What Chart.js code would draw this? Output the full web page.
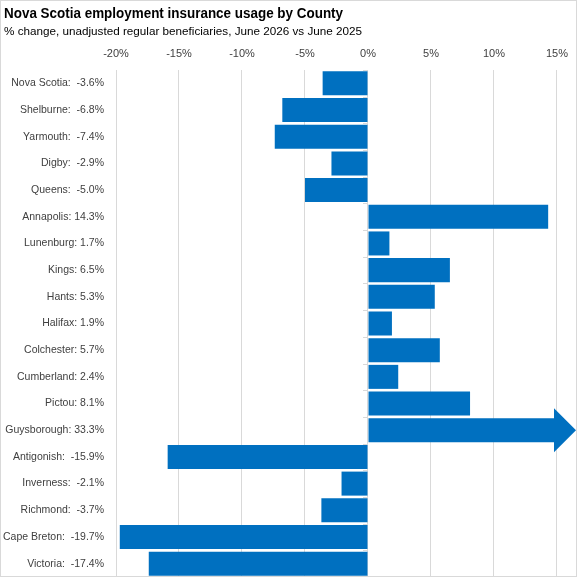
<!DOCTYPE html>
<html>
<head>
<meta charset="utf-8">
<script src="https://cdn.jsdelivr.net/npm/chart.js@4"></script>
<style>
  html, body { margin: 0; padding: 0; background: #fff; }
  #wrap { width: 577px; height: 577px; position: relative; }
</style>
</head>
<body>
<div id="wrap"><canvas id="myChart"></canvas></div>
<script>
// Chart data
const counties = ["Nova Scotia", "Shelburne", "Yarmouth", "Digby", "Queens", "Annapolis",
  "Lunenburg", "Kings", "Hants", "Halifax", "Colchester", "Cumberland", "Pictou",
  "Guysborough", "Antigonish", "Inverness", "Richmond", "Cape Breton", "Victoria"];
const changePct = [-3.6, -6.8, -7.4, -2.9, -5.0, 14.3, 1.7, 6.5, 5.3, 1.9, 5.7, 2.4, 8.1,
  33.3, -15.9, -2.1, -3.7, -19.7, -17.4];
const xTicks = [-20, -15, -10, -5, 0, 5, 10, 15];

const titleText = 'Nova Scotia employment insurance usage by County';
const subtitleText = '% change, unadjusted regular beneficiaries, June 2026 vs June 2025';

const barColor = '#0070C0';
const fontFam = '"Liberation Sans", Arial, sans-serif';

const labels = counties.map((c, i) => c + (changePct[i] < 0 ? ':  ' : ': ') + changePct[i].toFixed(1) + '%');
const xMin = xTicks[0];
const xMax = xTicks[xTicks.length - 1];

// white background, thin frame, title and subtitle
const framePlugin = {
  id: 'frame',
  beforeDraw(chart) {
    const ctx = chart.ctx;
    ctx.save();
    ctx.fillStyle = '#fff';
    ctx.fillRect(0, 0, chart.width, chart.height);
    ctx.strokeStyle = '#d9d9d9';
    ctx.lineWidth = 1;
    ctx.strokeRect(0.5, 0.5, chart.width - 1, chart.height - 1);

    ctx.fillStyle = '#000';
    ctx.textBaseline = 'alphabetic';
    ctx.textAlign = 'left';
    ctx.font = 'bold 14px ' + fontFam;
    ctx.save();
    ctx.translate(4, 18);
    ctx.scale(0.96, 1);
    ctx.fillText(titleText, 0, 0);
    ctx.restore();
    ctx.font = '11.7px ' + fontFam;
    ctx.fillText(subtitleText, 4, 35);
    ctx.restore();
  }
};

// short tick marks on the zero line between categories
const zeroTicks = {
  id: 'zeroTicks',
  beforeDatasetsDraw(chart) {
    const ctx = chart.ctx;
    const x0 = chart.scales.x.getPixelForValue(0);
    const y = chart.scales.y;
    ctx.save();
    ctx.strokeStyle = '#d9d9d9';
    ctx.lineWidth = 1;
    ctx.beginPath();
    for (let i = 0; i <= counties.length; i++) {
      const py = Math.round(y.getPixelForValue(i - 0.5)) + 0.5;
      ctx.moveTo(x0 - 5, py);
      ctx.lineTo(x0, py);
    }
    ctx.stroke();
    ctx.restore();
  }
};

// bars past the axis max become an arrow running to the edge
const overflowArrow = {
  id: 'overflowArrow',
  afterDatasetsDraw(chart) {
    const ctx = chart.ctx;
    const meta = chart.getDatasetMeta(0);
    meta.data.forEach((bar, i) => {
      if (changePct[i] <= xMax) return;
      const p = bar.getProps(['x', 'y', 'base', 'height'], true);
      const tip = chart.width - 1;
      const headLen = 22;
      const half = p.height / 2;
      const headHalf = 22;
      ctx.save();
      ctx.fillStyle = barColor;
      ctx.beginPath();
      ctx.moveTo(p.base, p.y - half);
      ctx.lineTo(tip - headLen, p.y - half);
      ctx.lineTo(tip - headLen, p.y - headHalf);
      ctx.lineTo(tip, p.y);
      ctx.lineTo(tip - headLen, p.y + headHalf);
      ctx.lineTo(tip - headLen, p.y + half);
      ctx.lineTo(p.base, p.y + half);
      ctx.closePath();
      ctx.fill();
      ctx.restore();
    });
  }
};

Chart.defaults.font.family = fontFam;
Chart.defaults.color = '#404040';

const ctx = document.getElementById('myChart').getContext('2d');

const chart = new Chart(ctx, {
  type: 'bar',
  data: {
    labels: labels,
    datasets: [{
      label: '% change',
      data: changePct,
      backgroundColor: changePct.map(v => v > xMax ? 'rgba(0,0,0,0)' : barColor),
      borderWidth: 0,
      barPercentage: 0.9,
      categoryPercentage: 1.0,
    }]
  },
  options: {
    indexAxis: 'y',
    responsive: true,
    maintainAspectRatio: false,
    animation: false,
    layout: { autoPadding: false, padding: { left: 0, right: 20, top: 47, bottom: 0 } },
    plugins: {
      legend: { display: false },
      tooltip: { enabled: false },
      title: { display: false },
    },
    scales: {
      x: {
        position: 'top',
        min: xMin,
        max: xMax,
        afterBuildTicks(scale) {
          scale.ticks = xTicks.map(v => ({ value: v }));
        },
        afterFit(scale) { scale.height = 23; },
        ticks: {
          callback: v => v + '%',
          font: { size: 11 },
          color: '#404040',
          padding: 9,
          maxRotation: 0,
        },
        grid: {
          color: '#d9d9d9',
          drawTicks: false,
          tickLength: 0,
        },
        border: { display: false },
      },
      y: {
        afterFit(scale) {
          scale.width = 116;
          scale.paddingTop = 0;
          scale.paddingBottom = 0;
        },
        ticks: {
          font: { size: 10.5 },
          color: '#404040',
          padding: 0,
          autoSkip: false,
        },
        grid: {
          display: true,
          drawOnChartArea: false,
          drawTicks: true,
          tickLength: 12,
          color: 'rgba(0,0,0,0)',
        },
        border: { display: false },
      }
    }
  },
  plugins: [framePlugin, zeroTicks, overflowArrow]
});
</script>
</body>
</html>
